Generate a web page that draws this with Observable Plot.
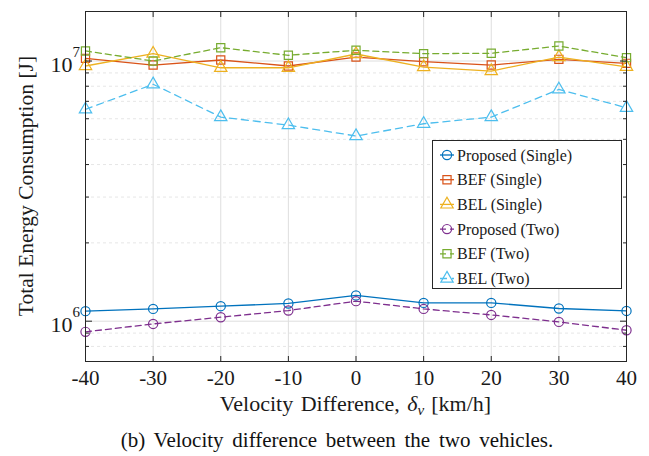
<!DOCTYPE html>
<html>
<head>
<meta charset="utf-8">
<script src="https://cdn.jsdelivr.net/npm/d3@7"></script>
<script src="https://cdn.jsdelivr.net/npm/@observablehq/plot@0.6"></script>
<style>
  body { margin: 0; background: #fff; font-family: "Liberation Serif", serif; }
  #wrap { position: relative; width: 649px; height: 456px; overflow: hidden; }
  #caption { position: absolute; left: 25px; width: 624px; top: 428px; text-align: center;
             font-size: 21px; line-height: 24px; color: #111; word-spacing: 3.5px; }
</style>
</head>
<body>
<div id="wrap">
  <div id="chart"></div>
  <div id="caption">(b) Velocity difference between the two vehicles.</div>
</div>
<script>
// Velocity difference between the vehicles [km/h]
const velocity = [-40, -30, -20, -10, 0, 10, 20, 30, 40];

// Total energy consumption [J] per strategy
const proposedSingle = [1.093e6, 1.115e6, 1.142e6, 1.170e6, 1.256e6, 1.176e6, 1.176e6, 1.119e6, 1.095e6];
const befSingle      = [1.024e7, 0.965e7, 1.009e7, 0.957e7, 1.036e7, 0.994e7, 0.965e7, 1.015e7, 0.980e7];
const belSingle      = [0.957e7, 1.067e7, 0.942e7, 0.942e7, 1.064e7, 0.948e7, 0.915e7, 1.036e7, 0.950e7];
const proposedTwo    = [0.910e6, 0.976e6, 1.036e6, 1.099e6, 1.194e6, 1.115e6, 1.057e6, 0.994e6, 0.923e6];
const befTwo         = [1.093e7, 1.000e7, 1.125e7, 1.052e7, 1.100e7, 1.067e7, 1.071e7, 1.142e7, 1.030e7];
const belTwo         = [6.52e6, 8.14e6, 6.09e6, 5.67e6, 5.15e6, 5.74e6, 6.09e6, 7.78e6, 6.61e6];

const seriesNames   = ["Proposed (Single)", "BEF (Single)", "BEL (Single)", "Proposed (Two)", "BEF (Two)", "BEL (Two)"];
const seriesValues  = [proposedSingle, befSingle, belSingle, proposedTwo, befTwo, belTwo];
const seriesColors  = ["#0072BD", "#D95319", "#EDB120", "#7E2F8E", "#77AC30", "#4DBEEE"];
const seriesSymbols = ["circle", "square", "triangle", "circle", "square", "triangle"];
const seriesDashes  = [null, null, null, "6,4", "6,4", "7,5"];

// Logarithmic y ticks
const majorTicks = [1e6, 1e7];
const minorTicks = [8e5, 9e5, 2e6, 3e6, 4e6, 5e6, 6e6, 7e6, 8e6, 9e6];

const font = "Liberation Serif";
const markerR = 4.6;

const rows = seriesNames.map((name, i) =>
  velocity.map((v, j) => ({ v, e: seriesValues[i][j], name }))
);

const seriesMarks = rows.flatMap((data, i) => [
  Plot.line(data, { x: "v", y: "e", stroke: seriesColors[i], strokeWidth: 1.3,
                    strokeDasharray: seriesDashes[i] ?? undefined }),
  Plot.dot(data, { x: "v", y: "e", stroke: seriesColors[i], fill: "none", strokeWidth: 1.2,
                   symbol: seriesSymbols[i], r: markerR })
]);

const plot = Plot.plot({
  width: 649,
  height: 420,
  marginLeft: 85,
  marginRight: 23,
  marginTop: 11,
  marginBottom: 59,
  style: { fontFamily: font, background: "#fff", color: "#1a1a1a", overflow: "visible" },
  x: { domain: [-40, 40], label: null },
  y: { type: "log", domain: [7e5, 1.55e7], label: null },
  marks: [
    Plot.ruleX(velocity, { stroke: "#dedede", strokeWidth: 1 }),
    Plot.ruleY(minorTicks, { stroke: "#e6e6e6", strokeDasharray: "3,3" }),
    Plot.ruleY(majorTicks, { stroke: "#dedede" }),
    ...seriesMarks,
    // inward ticks on all four sides
    Plot.axisX(velocity, { anchor: "bottom", tickSize: -5, tickPadding: 14, fontSize: 21, label: null,
                           tickFormat: d => String(d), stroke: "#262626" }),
    Plot.axisX(velocity, { anchor: "top", tickSize: -5, tickFormat: () => "", label: null, stroke: "#262626" }),
    Plot.axisY(majorTicks, { anchor: "left", tickSize: -7, tickFormat: () => "", label: null, stroke: "#262626" }),
    Plot.axisY(minorTicks, { anchor: "left", tickSize: -4, tickFormat: () => "", label: null, stroke: "#262626" }),
    Plot.axisY(majorTicks, { anchor: "right", tickSize: -7, tickFormat: () => "", label: null, stroke: "#262626" }),
    Plot.axisY(minorTicks, { anchor: "right", tickSize: -4, tickFormat: () => "", label: null, stroke: "#262626" }),
    // 10^n tick labels
    Plot.text(majorTicks, { y: d => d, frameAnchor: "left", text: () => "10", textAnchor: "end",
                            dx: -13, dy: 4, fontSize: 22, fill: "#1a1a1a" }),
    Plot.text(majorTicks, { y: d => d, frameAnchor: "left", text: d => String(Math.round(Math.log10(d))),
                            textAnchor: "start", dx: -13, dy: -9, fontSize: 15, fill: "#1a1a1a" }),
    Plot.frame({ stroke: "#262626", strokeWidth: 1 })
  ]
});

document.getElementById("chart").appendChild(plot);

const svg = d3.select(plot);

// axis titles
const xl = svg.append("text")
  .attr("x", (85 + 626) / 2).attr("y", 411)
  .attr("text-anchor", "middle").attr("word-spacing", 2)
  .attr("font-family", font).attr("font-size", 22).attr("fill", "#1a1a1a");
xl.append("tspan").text("Velocity Difference, ");
xl.append("tspan").attr("font-style", "italic").text("δ");
xl.append("tspan").attr("font-style", "italic").attr("font-size", 15).attr("dy", 4).text("v");
xl.append("tspan").attr("dy", -4).attr("dx", 7).text("[km/h]");

svg.append("text")
  .attr("transform", `translate(26,${(11 + 361) / 2}) rotate(-90)`)
  .attr("text-anchor", "middle").attr("dominant-baseline", "central")
  .attr("font-family", font).attr("font-size", 21.5).attr("fill", "#1a1a1a")
  .text("Total Energy Consumption [J]");

// legend
const lg = svg.append("g").attr("font-family", font).attr("font-size", 16).attr("text-anchor", "start");
lg.append("rect").attr("x", 432.5).attr("y", 140.5).attr("width", 189).attr("height", 148)
  .attr("fill", "#fff").attr("stroke", "#262626").attr("stroke-width", 1);
const symbolTypes = { circle: d3.symbolCircle, square: d3.symbolSquare, triangle: d3.symbolTriangle };
seriesNames.forEach((name, i) => {
  const cy = 155 + i * 24.7;
  const g = lg.append("g").attr("transform", `translate(447,${cy})`);
  g.append("line").attr("x1", -7).attr("x2", 7).attr("stroke", seriesColors[i]).attr("stroke-width", 1.3)
    .attr("stroke-dasharray", seriesDashes[i]);
  g.append("path").attr("d", d3.symbol(symbolTypes[seriesSymbols[i]], Math.PI * markerR * markerR)())
    .attr("fill", "none").attr("stroke", seriesColors[i]).attr("stroke-width", 1.2);
  lg.append("text").attr("x", 457).attr("y", cy).attr("dominant-baseline", "central")
    .attr("fill", "#1a1a1a").text(name);
});
</script>
</body>
</html>
